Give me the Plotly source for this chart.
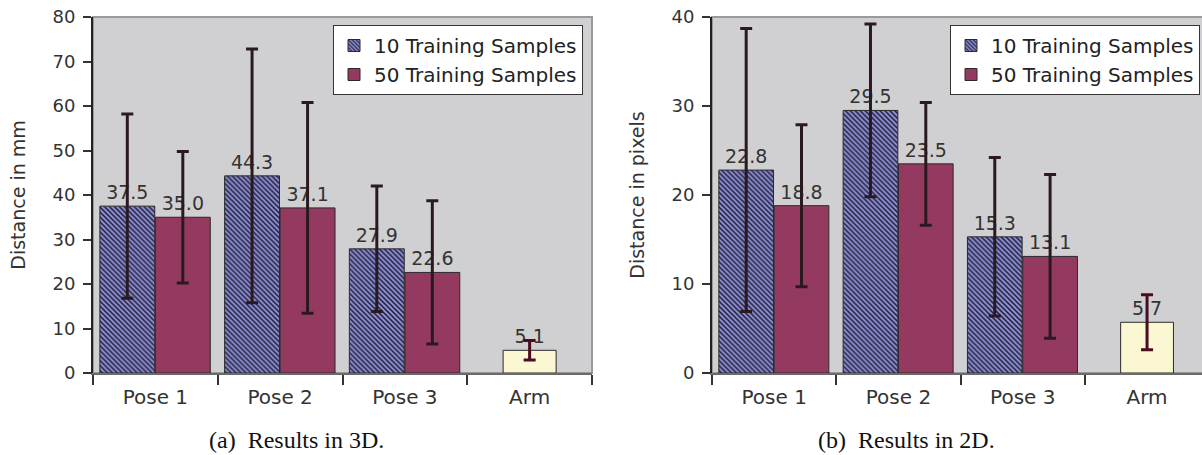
import plotly.graph_objects as go

# ---------------- data ----------------
categories = ["Pose 1", "Pose 2", "Pose 3"]
arm_category = ["Arm"]
all_categories = categories + arm_category

series_names = ["10 Training Samples", "50 Training Samples"]

# (a) Results in 3D (mm)
mm_10 = [37.5, 44.3, 27.9]
mm_10_err = [20.7, 28.5, 14.1]
mm_50 = [35.0, 37.1, 22.6]
mm_50_err = [14.8, 23.7, 16.1]
mm_arm = [5.1]
mm_arm_err = [2.2]

# (b) Results in 2D (pixels)
px_10 = [22.8, 29.5, 15.3]
px_10_err = [15.9, 9.7, 8.9]
px_50 = [18.8, 23.5, 13.1]
px_50_err = [9.1, 6.9, 9.2]
px_arm = [5.7]
px_arm_err = [3.1]

y_titles = ["Distance in mm", "Distance in pixels"]
y_ranges = [[0, 80], [0, 40]]
captions = ["(a)\u00a0 Results in 3D.", "(b)\u00a0 Results in 2D."]

# ---------------- style ----------------
W, H = 1202, 455
FONT = "DejaVu Sans"
TXT = "#333333"
BG = "#d0d0d2"
C10_BG = "#9090d8"
C10_FG = "#1a1a30"
C50 = "#943a60"
CARM = "#fbf7d2"
EB = "#2a1a20"
EB_ARM = "#4a0c1e"

fig = go.Figure()


def add_panel(idx, v10, e10, v50, e50, varm, earm):
    xa = "x" if idx == 1 else "x2"
    ya = "y" if idx == 1 else "y2"
    leg = "legend" if idx == 1 else "legend2"
    common = dict(xaxis=xa, yaxis=ya, textposition="outside", cliponaxis=False,
                  texttemplate="%{y:.1f}",
                  textfont=dict(family=FONT, size=19, color=TXT),
                  width=0.44)
    fig.add_trace(go.Bar(
        x=categories, y=v10, name=series_names[0], legend=leg, offset=-0.445,
        marker=dict(color=C10_BG, line=dict(color="#2a2a2a", width=1),
                    pattern=dict(shape="\\", size=3.5, solidity=0.42,
                                 fgcolor=C10_FG, bgcolor=C10_BG, fillmode="replace")),
        error_y=dict(type="data", array=e10, color=EB, thickness=3, width=6),
        **common))
    fig.add_trace(go.Bar(
        x=categories, y=v50, name=series_names[1], legend=leg, offset=0.0,
        marker=dict(color=C50, line=dict(color="#2a2a2a", width=1)),
        error_y=dict(type="data", array=e50, color=EB, thickness=3, width=6),
        **common))
    c2 = dict(common)
    c2["width"] = 0.425
    fig.add_trace(go.Bar(
        x=arm_category, y=varm, name="Arm", showlegend=False, offset=-0.2125,
        marker=dict(color=CARM, line=dict(color="#2a2a2a", width=1)),
        error_y=dict(type="data", array=earm, color=EB_ARM, thickness=3, width=6),
        **c2))


add_panel(1, mm_10, mm_10_err, mm_50, mm_50_err, mm_arm, mm_arm_err)
add_panel(2, px_10, px_10_err, px_50, px_50_err, px_arm, px_arm_err)

y_dom = [(H - 373) / H, (H - 17) / H]
x_doms = [[93 / W, 592 / W], [712 / W, 1.0]]
x_ranges = [[-0.5, 3.5], [-0.5, -0.5 + (W - 712) / 124.3]]

xcommon = dict(type="category", categoryorder="array", categoryarray=all_categories,
               tickson="boundaries", ticks="outside", ticklen=10, tickwidth=1.5,
               tickcolor="#333333", showline=True, linecolor="#6a6a6a", linewidth=2,
               showgrid=False, zeroline=False, ticklabelstandoff=5, automargin=False,
               tickfont=dict(family=FONT, size=20, color=TXT))
ycommon = dict(ticks="outside", ticklen=8, tickwidth=1.5, tickcolor="#333333",
               showline=True, linecolor="#222222", linewidth=2, showgrid=False,
               zeroline=False, dtick=10, ticklabelstandoff=4, automargin=False,
               ticklabeloverflow="allow",
               tickfont=dict(family=FONT, size=18, color=TXT))

legend_common = dict(xanchor="right", y=1 - 25 / H, yanchor="top",
                     bgcolor="white", bordercolor="#333333", borderwidth=1,
                     font=dict(family=FONT, size=20, color="#222222"),
                     tracegroupgap=2)

fig.update_layout(
    width=W, height=H,
    margin=dict(l=0, r=0, t=0, b=0, autoexpand=False),
    paper_bgcolor="white", plot_bgcolor=BG,
    barmode="overlay",
    xaxis=dict(domain=x_doms[0], range=x_ranges[0], anchor="y", **xcommon),
    xaxis2=dict(domain=x_doms[1], range=x_ranges[1], anchor="y2", **xcommon),
    yaxis=dict(domain=y_dom, range=y_ranges[0], anchor="x",
               title=dict(text=y_titles[0], standoff=22,
                          font=dict(family=FONT, size=19, color=TXT)), **ycommon),
    yaxis2=dict(domain=y_dom, range=y_ranges[1], anchor="x2",
                title=dict(text=y_titles[1], standoff=22,
                           font=dict(family=FONT, size=19, color=TXT)), **ycommon),
    legend=dict(x=583 / W, **legend_common),
    legend2=dict(x=1200 / W, **legend_common),
    shapes=[
        dict(type="rect", xref="x domain", yref="y domain", x0=0, x1=1, y0=0, y1=1,
             line=dict(color="#9a9a9a", width=2), layer="below"),
        dict(type="rect", xref="x2 domain", yref="y2 domain", x0=0, x1=1.05, y0=0, y1=1,
             line=dict(color="#9a9a9a", width=2), layer="below"),
    ],
    annotations=[
        dict(text=captions[0], x=296 / W, y=1 - 440 / H, xref="paper", yref="paper",
             xanchor="center", yanchor="middle", showarrow=False,
             font=dict(family="Liberation Serif", size=24, color="#111111")),
        dict(text=captions[1], x=906 / W, y=1 - 440 / H, xref="paper", yref="paper",
             xanchor="center", yanchor="middle", showarrow=False,
             font=dict(family="Liberation Serif", size=24, color="#111111")),
    ],
)

# remove the browser's default 8px page margin so the figure fills the window
fig.write_html("out.html", config={"displayModeBar": False},
               post_script="document.body.style.margin='0';")
